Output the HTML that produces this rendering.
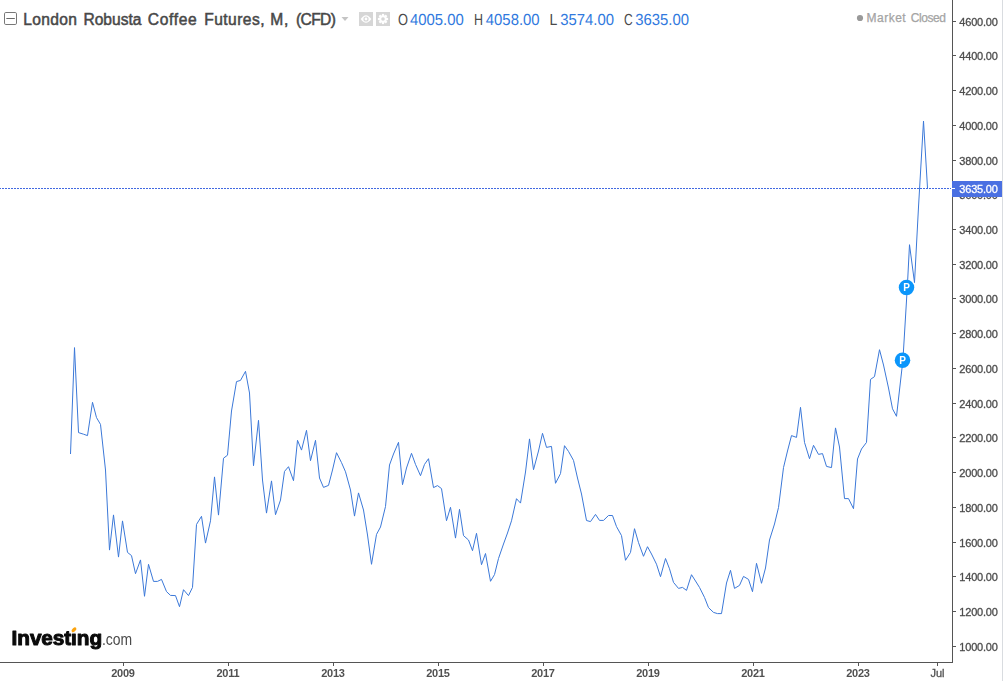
<!DOCTYPE html>
<html><head><meta charset="utf-8"><title>London Robusta Coffee Futures</title>
<style>
html,body{margin:0;padding:0;background:#fff;}
body{width:1003px;height:681px;overflow:hidden;position:relative;font-family:"Liberation Sans",sans-serif;}
svg{position:absolute;left:0;top:0;}
#main{will-change:transform;}
.hdr{position:absolute;top:9px;left:0;height:20px;line-height:20px;white-space:nowrap;font-size:14.6px;color:#4a4a4a;}
.hdr span{position:absolute;top:0;}
.t{color:#484848;font-size:15.6px;margin-top:0.7px;margin-left:-0.5px;-webkit-text-stroke:0.5px #484848;}
</style></head><body>
<svg class="ks" width="300" height="24" viewBox="395 6 300 24" style="left:395px;top:6px" font-family="Liberation Sans, sans-serif" font-size="16" text-rendering="geometricPrecision">
<g fill="#4a4a4a">
<text x="398.1" y="24.95" textLength="10.0" lengthAdjust="spacingAndGlyphs">O</text>
<text x="474.0" y="24.95" textLength="9.0" lengthAdjust="spacingAndGlyphs">H</text>
<text x="549.4" y="24.95" textLength="7.8" lengthAdjust="spacingAndGlyphs">L</text>
<text x="624.0" y="24.95" textLength="8.7" lengthAdjust="spacingAndGlyphs">C</text>
</g>
<g fill="#3079de">
<text x="409.9" y="24.95" textLength="53.8" lengthAdjust="spacingAndGlyphs">4005.00</text>
<text x="485.8" y="24.95" textLength="53.8" lengthAdjust="spacingAndGlyphs">4058.00</text>
<text x="560.2" y="24.95" textLength="53.8" lengthAdjust="spacingAndGlyphs">3574.00</text>
<text x="635.2" y="24.95" textLength="53.8" lengthAdjust="spacingAndGlyphs">3635.00</text>
</g>
</svg>
<div class="hdr">
<span class="t" style="left:23.69px;letter-spacing:0.32px">London</span><span class="t" style="left:83.92px;letter-spacing:0.0px">Robusta</span><span class="t" style="left:148.23px;letter-spacing:0.66px">Coffee</span><span class="t" style="left:204.69px;letter-spacing:0.44px">Futures,</span><span class="t" style="left:270.84px;letter-spacing:0.7px">M,</span><span class="t" style="left:296.54px;letter-spacing:-0.63px">(CFD)</span>
</div>
<div style="position:absolute;left:866.5px;top:10px;font-size:12px;line-height:17px;color:#a4a4a4;-webkit-text-stroke:0.25px #a4a4a4;letter-spacing:0.15px;white-space:nowrap;" id="mc"><span style="letter-spacing:0.5px">Market</span><span style="position:absolute;left:44.2px;letter-spacing:-0.42px">Closed</span></div>
<svg id="main" width="1003" height="681" viewBox="0 0 1003 681" font-family="Liberation Sans, sans-serif">
<rect x="1002" y="0" width="1" height="681" fill="#d9dce0"/>
<!-- axes -->
<rect x="952" y="0" width="1" height="663" fill="#555"/>
<rect x="0" y="662" width="953" height="1" fill="#555"/>
<rect x="953" y="21" width="3" height="1" fill="#555"/><rect x="953" y="55" width="3" height="1" fill="#555"/><rect x="953" y="90" width="3" height="1" fill="#555"/><rect x="953" y="125" width="3" height="1" fill="#555"/><rect x="953" y="160" width="3" height="1" fill="#555"/><rect x="953" y="194" width="3" height="1" fill="#555"/><rect x="953" y="229" width="3" height="1" fill="#555"/><rect x="953" y="264" width="3" height="1" fill="#555"/><rect x="953" y="298" width="3" height="1" fill="#555"/><rect x="953" y="333" width="3" height="1" fill="#555"/><rect x="953" y="368" width="3" height="1" fill="#555"/><rect x="953" y="403" width="3" height="1" fill="#555"/><rect x="953" y="437" width="3" height="1" fill="#555"/><rect x="953" y="472" width="3" height="1" fill="#555"/><rect x="953" y="507" width="3" height="1" fill="#555"/><rect x="953" y="542" width="3" height="1" fill="#555"/><rect x="953" y="576" width="3" height="1" fill="#555"/><rect x="953" y="611" width="3" height="1" fill="#555"/><rect x="953" y="646" width="3" height="1" fill="#555"/>
<rect x="123" y="663" width="1" height="3" fill="#555"/><rect x="228" y="663" width="1" height="3" fill="#555"/><rect x="333" y="663" width="1" height="3" fill="#555"/><rect x="438" y="663" width="1" height="3" fill="#555"/><rect x="543" y="663" width="1" height="3" fill="#555"/><rect x="648" y="663" width="1" height="3" fill="#555"/><rect x="753" y="663" width="1" height="3" fill="#555"/><rect x="858" y="663" width="1" height="3" fill="#555"/><rect x="937" y="663" width="1" height="3" fill="#555"/>
<g font-size="11" fill="#4c4c4c" stroke="#4c4c4c" stroke-width="0.3" letter-spacing="-0.2"><text x="959.3" y="25.5">4600.00</text><text x="959.3" y="59.5">4400.00</text><text x="959.3" y="94.5">4200.00</text><text x="959.3" y="129.5">4000.00</text><text x="959.3" y="164.5">3800.00</text><text x="959.3" y="198.5">3600.00</text><text x="959.3" y="233.5">3400.00</text><text x="959.3" y="268.5">3200.00</text><text x="959.3" y="302.5">3000.00</text><text x="959.3" y="337.5">2800.00</text><text x="959.3" y="372.5">2600.00</text><text x="959.3" y="407.5">2400.00</text><text x="959.3" y="441.5">2200.00</text><text x="959.3" y="476.5">2000.00</text><text x="959.3" y="511.5">1800.00</text><text x="959.3" y="546.5">1600.00</text><text x="959.3" y="580.5">1400.00</text><text x="959.3" y="615.5">1200.00</text><text x="959.3" y="650.5">1000.00</text></g>
<g font-size="11" font-weight="bold" fill="#505050" text-anchor="middle" letter-spacing="-0.25"><text x="122.9" y="677">2009</text><text x="227.9" y="677">2011</text><text x="332.9" y="677">2013</text><text x="437.9" y="677">2015</text><text x="542.9" y="677">2017</text><text x="647.9" y="677">2019</text><text x="752.9" y="677">2021</text><text x="857.9" y="677">2023</text><text x="937.5" y="677" font-weight="normal" stroke="#505050" stroke-width="0.3" letter-spacing="0">Jul</text></g>
<!-- price line -->
<line x1="0" y1="188.5" x2="951" y2="188.5" stroke="#4169e1" stroke-width="1" stroke-dasharray="2 1" stroke-dashoffset="1" shape-rendering="crispEdges"/>
<polyline fill="none" stroke="#3b78d8" stroke-width="1" stroke-linejoin="miter" stroke-miterlimit="10" points="70.50,454.0 74.50,347.6 78.50,432.6 83.50,434.2 87.50,435.6 92.50,402.3 96.50,417.6 100.50,424.4 105.50,470.0 109.50,550.1 113.50,514.9 118.50,557.1 122.50,520.9 127.50,552.4 131.50,555.6 135.50,573.7 140.50,559.9 144.50,596.3 148.50,564.3 153.50,581.4 157.50,581.4 161.50,579.4 166.50,591.6 170.50,595.4 175.50,595.6 179.50,606.7 183.50,589.7 188.50,595.6 192.50,587.4 196.50,524.4 201.50,516.3 205.50,543.1 210.50,520.8 214.50,476.9 218.50,515.1 223.50,458.2 227.50,455.2 231.50,411.0 236.50,381.6 240.50,380.4 245.50,371.3 249.50,393.0 253.50,465.7 258.50,420.3 262.50,480.0 266.50,513.1 271.50,480.9 275.50,514.7 280.50,500.0 284.50,471.4 288.50,466.7 293.50,480.7 297.50,440.3 301.50,450.1 306.50,430.3 310.50,460.7 315.50,440.3 319.50,478.0 323.50,487.4 328.50,485.4 332.50,470.0 336.50,452.7 341.50,462.6 345.50,471.8 350.50,490.0 354.50,516.1 358.50,492.9 363.50,510.0 367.50,535.0 371.50,564.3 376.50,534.4 380.50,527.0 385.50,506.5 389.50,465.0 393.50,454.0 398.50,442.3 402.50,484.7 406.50,468.0 411.50,453.3 415.50,464.4 420.50,475.7 424.50,464.4 428.50,458.7 433.50,487.6 437.50,485.6 441.50,488.6 446.50,520.7 450.50,507.3 455.50,538.1 459.50,509.3 463.50,535.6 468.50,540.0 472.50,550.7 476.50,533.3 481.50,564.7 485.50,553.5 490.50,581.3 494.50,574.6 498.50,558.5 503.50,544.0 507.50,533.0 511.50,520.8 516.50,498.7 520.50,503.1 525.50,472.0 529.50,438.9 533.50,469.7 538.50,451.0 542.50,433.3 546.50,447.4 551.50,446.4 555.50,483.3 560.50,473.6 564.50,445.7 568.50,451.4 573.50,460.4 577.50,478.0 581.50,494.0 586.50,520.5 590.50,521.6 595.50,514.4 599.50,520.4 603.50,520.4 608.50,515.5 612.50,515.5 616.50,526.6 621.50,535.6 625.50,560.3 630.50,552.4 634.50,528.7 638.50,542.6 643.50,556.3 647.50,546.7 651.50,554.0 656.50,564.2 660.50,576.7 665.50,558.5 669.50,568.8 673.50,582.4 678.50,588.4 682.50,587.4 686.50,590.4 691.50,574.7 695.50,581.0 699.50,587.4 704.50,597.4 708.50,607.6 713.50,612.4 717.50,613.6 721.50,613.6 726.50,583.0 730.50,570.3 734.50,588.4 739.50,585.4 743.50,576.4 748.50,579.4 752.50,591.7 756.50,563.3 761.50,583.3 765.50,568.0 769.50,540.0 774.50,524.0 778.50,507.5 783.50,467.6 787.50,451.0 791.50,435.6 796.50,437.4 800.50,407.3 804.50,442.4 809.50,458.7 813.50,445.3 818.50,454.4 822.50,453.6 826.50,466.4 831.50,467.6 835.50,427.9 839.50,447.0 844.50,498.6 848.50,498.6 853.50,508.7 857.50,459.0 861.50,449.0 866.50,442.4 870.50,379.4 874.50,376.6 879.50,349.7 883.50,365.0 888.50,388.0 892.50,408.8 896.50,416.3 902.90,360.3 907.30,287.3 909.50,244.7 914.50,282.6 918.50,207.0 923.50,121.0 927.50,188.0"/>
<!-- price label -->
<rect x="952" y="181" width="50" height="16" fill="#4a70e2"/>
<rect x="952" y="188" width="3" height="1" fill="#fff"/>
<text x="959.3" y="193" font-size="11" fill="#fff" stroke="#fff" stroke-width="0.3" letter-spacing="-0.2">3635.00</text>
<!-- markers -->
<g font-size="10" font-weight="bold" fill="#fff" text-anchor="middle">
<circle cx="902.5" cy="360.3" r="7.75" fill="#0b96fb"/><text x="902.6" y="363.8">P</text>
<circle cx="906.5" cy="287.4" r="7.75" fill="#0b96fb"/><text x="906.6" y="290.8">P</text>
</g>
<!-- header icons -->
<rect x="4.5" y="12.5" width="12" height="12" rx="1.3" fill="#fff" stroke="#787878"/>
<rect x="6.3" y="18" width="8.5" height="1" fill="#6a6a6a"/>
<path d="M341.5 17 L348.5 17 L345 21 Z" fill="#c4c4c4"/>
<rect x="359" y="12" width="14" height="14" fill="#d6d6d6"/>
<rect x="376" y="12" width="14" height="14" fill="#d6d6d6"/>
<path d="M360.7 19 Q366 11.4 371.3 19 Q366 26.6 360.7 19 Z" fill="#fff"/>
<circle cx="366" cy="19" r="2.0" fill="none" stroke="#d6d6d6" stroke-width="1.2"/>
<g fill="#fff"><circle cx="383" cy="19" r="3.7"/>
<g id="teeth"><rect x="381.9" y="13.9" width="2.2" height="10.2"/><rect x="381.9" y="13.9" width="2.2" height="10.2" transform="rotate(45 383 19)"/><rect x="381.9" y="13.9" width="2.2" height="10.2" transform="rotate(90 383 19)"/><rect x="381.9" y="13.9" width="2.2" height="10.2" transform="rotate(135 383 19)"/></g></g>
<circle cx="383" cy="19" r="1.8" fill="#d6d6d6"/>
<circle cx="860" cy="18" r="3.1" fill="#999"/>
<!-- logo -->
<text id="inv" x="11.6" y="644.6" font-size="20.8" font-weight="bold" fill="#0a0a0a" stroke="#0a0a0a" stroke-width="1" stroke-linejoin="round" letter-spacing="-0.1">Investing</text>
<rect x="71.2" y="625" width="5.7" height="7.9" fill="#fff"/>
<ellipse cx="74.0" cy="629.8" rx="2.95" ry="1.7" fill="#fba30e" transform="rotate(-45 74.0 629.8)"/>
<text id="com" x="101.9" y="644.7" font-size="16" fill="#4a4a4a" textLength="30.2" lengthAdjust="spacingAndGlyphs">.com</text>
</svg>
</body></html>
